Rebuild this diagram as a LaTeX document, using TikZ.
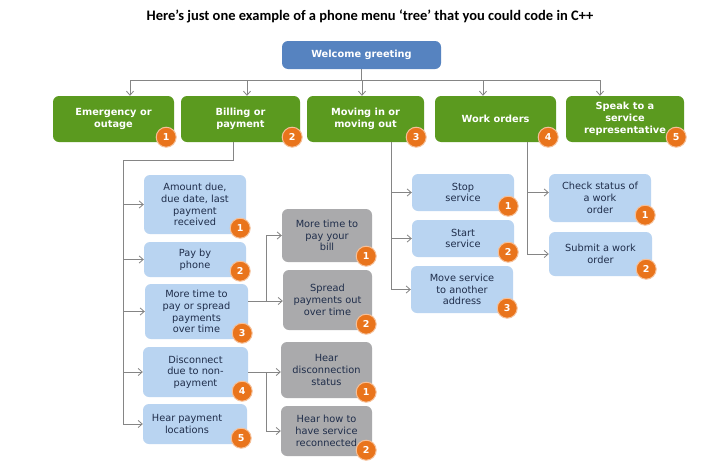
\documentclass[tikz,border=0pt]{standalone}
\usepackage{fontspec}
\setmainfont{DejaVu Sans}
\newfontfamily\titlefont{Carlito}
\usetikzlibrary{arrows.meta}
\definecolor{mgreen}{HTML}{5B9A1F}
\definecolor{mblue}{HTML}{5683C0}
\definecolor{lblue}{HTML}{B9D4F1}
\definecolor{mgray}{HTML}{AAAAAC}
\definecolor{morange}{HTML}{E9741C}
\definecolor{tdark}{HTML}{1F2D4A}
\definecolor{linegray}{HTML}{858585}
\begin{document}
\begin{tikzpicture}[x=1pt,y=-1pt,
  con/.style={draw=linegray, line width=0.8pt},
  arr/.style={con, -{Straight Barb[length=4pt,width=7pt]}},
  box/.style={rounded corners=6pt, inner sep=0pt, align=center},
  wbox/.style={box, fill=mblue, text=white, font=\fontsize{9.8}{12}\selectfont\bfseries},
  gbox/.style={box, fill=mgreen, text=white, font=\fontsize{9.8}{12}\selectfont\bfseries},
  bbox/.style={box, fill=lblue, text=tdark, font=\fontsize{9.8}{11.7}\selectfont},
  cbox/.style={box, fill=mgray, text=tdark, font=\fontsize{9.8}{11.7}\selectfont},
  num/.style={circle, fill=morange, draw=morange!45!white, line width=1pt, text=white,
    font=\fontsize{9.5}{9.5}\selectfont\bfseries, minimum size=20pt, inner sep=0pt}
]
\useasboundingbox (0,0) rectangle (725,474);
\fill[white] (0,0) rectangle (725,474);

% title
\node[font=\titlefont\fontsize{14.5}{16}\selectfont\bfseries] (title) at (370,16)
  {Here’s just one example of a phone menu ‘tree’ that you could code in C++};

% top
\node[wbox, minimum width=159pt, minimum height=28pt] (wel) at (361.5,55) {Welcome greeting};

\node[gbox, minimum width=121pt, minimum height=46pt] (g1) at (113.5,119) {Emergency or\\outage};
\node[gbox, minimum width=119pt, minimum height=46pt] (g2) at (240.5,119) {Billing or\\payment};
\node[gbox, minimum width=117pt, minimum height=46pt] (g3) at (365.5,119) {Moving in or\\moving out};
\node[gbox, minimum width=121pt, minimum height=46pt] (g4) at (495.5,119) {Work orders};
\node[gbox, minimum width=118pt, minimum height=46pt] (g5) at (625,119) {Speak to a\\service\\representative};

% billing children
\node[bbox, minimum width=102pt, minimum height=59pt] (b1) at (195,204.5) {Amount due,\\due date, last\\payment\\received};
\node[bbox, minimum width=102pt, minimum height=35pt] (b2) at (195,259.5) {Pay by\\phone};
\node[bbox, minimum width=103pt, minimum height=55pt] (b3) at (196.5,311.5) {More time to\\pay or spread\\payments\\over time};
\node[bbox, minimum width=105pt, minimum height=50pt] (b4) at (195.5,372) {Disconnect\\due to non-\\payment};
\node[bbox, minimum width=104pt, minimum height=40pt] (b5) at (195,424) {};
\node[bbox, fill=none] (b5t) at (187,424) {Hear payment\\locations};

\node[cbox, minimum width=90pt, minimum height=53pt] (c1) at (327,235.5) {More time to\\pay your\\bill};
\node[cbox, minimum width=89pt, minimum height=60pt] (c2) at (327.5,300) {Spread\\payments out\\over time};
\node[cbox, minimum width=91pt, minimum height=56pt] (c3) at (326.5,370) {Hear\\disconnection\\status};
\node[cbox, minimum width=91pt, minimum height=50pt] (c4) at (326.5,431) {Hear how to\\have service\\reconnected};

% moving children
\node[bbox, minimum width=102pt, minimum height=37pt] (s1) at (463,192.5) {Stop\\service};
\node[bbox, minimum width=102pt, minimum height=37pt] (s2) at (463,238.5) {Start\\service};
\node[bbox, minimum width=102pt, minimum height=47pt] (s3) at (462,289.5) {Move service\\to another\\address};

% work order children
\node[bbox, minimum width=102pt, minimum height=48pt] (w1) at (600,198) {Check status of\\a work\\order};
\node[bbox, minimum width=103pt, minimum height=44pt] (w2) at (600.5,254) {Submit a work\\order};

% connectors top
\coordinate (d1) at (130,80);
\coordinate (d2) at (247,80);
\coordinate (d3) at (362,80);
\coordinate (d4) at (483,80);
\coordinate (d5) at (600,80);
\draw[con] (wel.south) -- (wel.south |- d1);
\draw[con] (d1) -- (d5);
\foreach \i in {1,...,5} \draw[arr] (d\i) -- (d\i |- g\i.north);

% billing
\coordinate (bt) at (123,160);
\draw[con] ([xshift=-7.5pt]g2.south) |- (bt) -- (bt |- b5.west);
\foreach \i in {1,...,5} \draw[arr] (bt |- b\i.west) -- (b\i.west);
\coordinate (j1) at (266,301);
\draw[arr] (b3.east |- j1) -- (c2.west |- j1);
\draw[arr] (j1) |- (c1.west);
\coordinate (j2) at (266,372);
\draw[arr] (b4.east) -- (b4.east -| c3.west);
\draw[arr] (j2) |- (c4.west);

% moving
\coordinate (mv) at ([xshift=25.5pt]g3.south);
\draw[con] (mv) -- (mv |- s3.west);
\foreach \i in {1,2,3} \draw[arr] (mv |- s\i.west) -- (s\i.west);

% work orders
\coordinate (wv) at ([xshift=31.5pt]g4.south);
\draw[con] (wv) -- (wv |- w2.west);
\draw[arr] (wv |- s1.west) -- (s1.west -| w1.west);
\draw[arr] (wv |- w2.west) -- (w2.west);

% numbers
\foreach \i in {1,...,5} \node[num] (ng\i) at ([shift={(-8,-5)}]g\i.south east) {\i};
\foreach \i in {1,...,5} \node[num] (nb\i) at ([shift={(-6,-6)}]b\i.south east) {\i};
\foreach \i in {1,...,4} {
  \pgfmathtruncatemacro\k{mod(\i-1,2)+1}
  \node[num] (nc\i) at ([shift={(-6,-6)}]c\i.south east) {\k};
}
\foreach \i in {1,2,3} \node[num] (ns\i) at ([shift={(-6,-5)}]s\i.south east) {\i};
\foreach \i in {1,2} \node[num] (nw\i) at ([shift={(-6,-7)}]w\i.south east) {\i};
\end{tikzpicture}
\end{document}
